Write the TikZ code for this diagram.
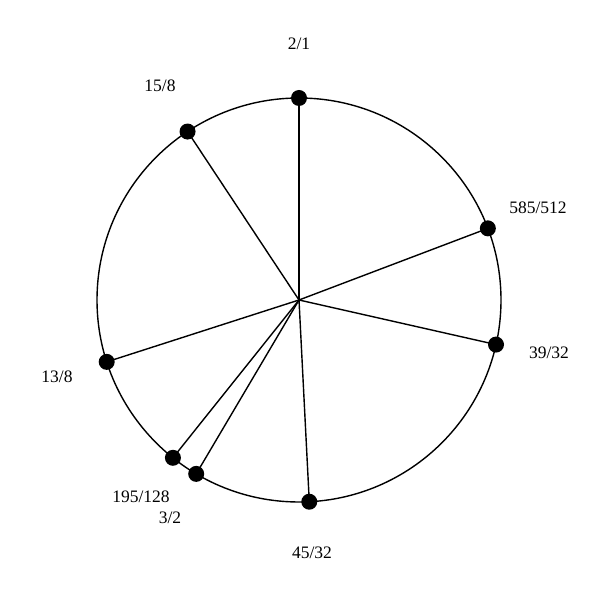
\documentclass[tikz,border=0pt]{standalone}
\usepackage{fontspec}
\setmainfont{Liberation Serif}
\usetikzlibrary{calc}
\begin{document}
\begin{tikzpicture}[x=1pt,y=1pt,
  rim/.style={line width=1.4pt},
  spoke/.style={line width=1.4pt},
  dot/.style={circle,fill=black,inner sep=0pt,minimum size=16pt},
  lab/.style={font=\fontsize{17.5}{20}\selectfont}]
\useasboundingbox (0,0) rectangle (600,600);
\coordinate (c) at (299,300);
\draw[rim] (c) circle (202);
\foreach \n/\a in {p21/0, p585/69.23, p3932/102.75, p4532/177.08, p32/210.59, p195/218.62, p138/252.16, p158/326.51}{
  \node[dot] (\n) at ($(c)+(90-\a:202)$) {};
}
\foreach \n in {p21,p585,p3932,p4532,p32,p195,p138,p158}{
  \draw[spoke] (c) -- (\n.center);
}
\node[lab] (l21) at (299,556) {2/1};
\node[lab] (l158) at (160,514) {15/8};
\node[lab] (l585) at (538,392) {585/512};
\node[lab] (l3932) at (549,247) {39/32};
\node[lab] (l4532) at (312,47) {45/32};
\node[lab] (l32) at (170,82) {3/2};
\node[lab] (l195) at (141,103) {195/128};
\node[lab] (l138) at (57,223) {13/8};
\end{tikzpicture}
\end{document}
